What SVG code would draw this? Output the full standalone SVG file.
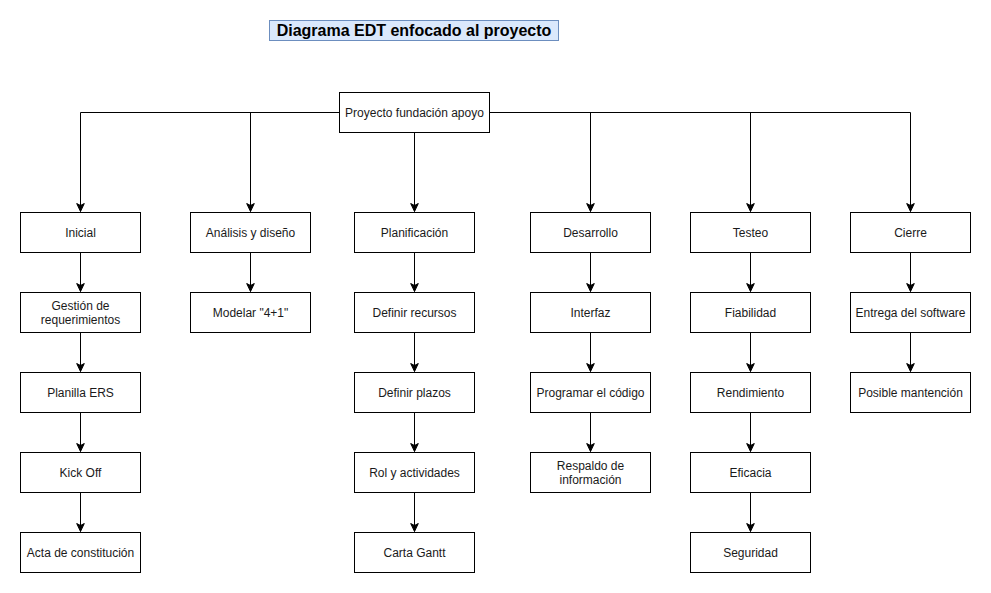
<svg xmlns="http://www.w3.org/2000/svg" width="991" height="593" viewBox="0 0 991 593">
<defs>
<style>
.b{fill:#fff;stroke:#000;stroke-width:1}
.t{font-family:"Liberation Sans",Arial,sans-serif;font-size:12px;fill:#1a1a1a;text-anchor:middle}
.c{fill:none;stroke:#000;stroke-width:1}
</style>
<marker id="a" markerUnits="userSpaceOnUse" markerWidth="10" markerHeight="10" refX="9" refY="5" orient="auto">
<path d="M1,1.2 L9,5 L1,8.8 L3,5 Z" fill="#000" stroke="#000" stroke-width="1"/>
</marker>
</defs>
<rect width="991" height="593" fill="#fff"/>
<g id="title">
<rect x="269.5" y="20.5" width="289" height="20" fill="#dae8fc" stroke="#6c8ebf"/>
<text x="414" y="36" style="font-family:'Liberation Sans',Arial,sans-serif;font-size:16px;font-weight:bold;text-anchor:middle;fill:#000">Diagrama EDT enfocado al proyecto</text>
</g>
<g id="connectors" class="c">
<path class="c" d="M339.5,112.5 H80.5 V211.5" marker-end="url(#a)"/>
<path class="c" d="M339.5,112.5 H250.5 V211.5" marker-end="url(#a)"/>
<path class="c" d="M414.5,132.5 V211.5" marker-end="url(#a)"/>
<path class="c" d="M489.5,112.5 H590.5 V211.5" marker-end="url(#a)"/>
<path class="c" d="M489.5,112.5 H750.5 V211.5" marker-end="url(#a)"/>
<path class="c" d="M489.5,112.5 H910.5 V211.5" marker-end="url(#a)"/>
<path class="c" d="M80.5,252.5 V291.5" marker-end="url(#a)"/>
<path class="c" d="M80.5,332.5 V371.5" marker-end="url(#a)"/>
<path class="c" d="M80.5,412.5 V451.5" marker-end="url(#a)"/>
<path class="c" d="M80.5,492.5 V531.5" marker-end="url(#a)"/>
<path class="c" d="M250.5,252.5 V291.5" marker-end="url(#a)"/>
<path class="c" d="M414.5,252.5 V291.5" marker-end="url(#a)"/>
<path class="c" d="M414.5,332.5 V371.5" marker-end="url(#a)"/>
<path class="c" d="M414.5,412.5 V451.5" marker-end="url(#a)"/>
<path class="c" d="M414.5,492.5 V531.5" marker-end="url(#a)"/>
<path class="c" d="M590.5,252.5 V291.5" marker-end="url(#a)"/>
<path class="c" d="M590.5,332.5 V371.5" marker-end="url(#a)"/>
<path class="c" d="M590.5,412.5 V451.5" marker-end="url(#a)"/>
<path class="c" d="M750.5,252.5 V291.5" marker-end="url(#a)"/>
<path class="c" d="M750.5,332.5 V371.5" marker-end="url(#a)"/>
<path class="c" d="M750.5,412.5 V451.5" marker-end="url(#a)"/>
<path class="c" d="M750.5,492.5 V531.5" marker-end="url(#a)"/>
<path class="c" d="M910.5,252.5 V291.5" marker-end="url(#a)"/>
<path class="c" d="M910.5,332.5 V371.5" marker-end="url(#a)"/>
</g>
<g id="root"><rect class="b" x="339.5" y="92.5" width="150" height="40"/><text class="t" x="414.5" y="117">Proyecto fundación apoyo</text></g>

<g id="inicial"><rect class="b" x="20.5" y="212.5" width="120" height="40"/><text class="t" x="80.5" y="237">Inicial</text></g>
<g id="gestion"><rect class="b" x="20.5" y="292.5" width="120" height="40"/><text class="t" x="80.5" y="310">Gestión de</text><text class="t" x="80.5" y="324">requerimientos</text></g>
<g id="planilla"><rect class="b" x="20.5" y="372.5" width="120" height="40"/><text class="t" x="80.5" y="397">Planilla ERS</text></g>
<g id="kickoff"><rect class="b" x="20.5" y="452.5" width="120" height="40"/><text class="t" x="80.5" y="477">Kick Off</text></g>
<g id="acta"><rect class="b" x="20.5" y="532.5" width="120" height="40"/><text class="t" x="80.5" y="557">Acta de constitución</text></g>

<g id="analisis"><rect class="b" x="190.5" y="212.5" width="120" height="40"/><text class="t" x="250.5" y="237">Análisis y diseño</text></g>
<g id="modelar"><rect class="b" x="190.5" y="292.5" width="120" height="40"/><text class="t" x="250.5" y="317">Modelar "4+1"</text></g>

<g id="planificacion"><rect class="b" x="354.5" y="212.5" width="120" height="40"/><text class="t" x="414.5" y="237">Planificación</text></g>
<g id="recursos"><rect class="b" x="354.5" y="292.5" width="120" height="40"/><text class="t" x="414.5" y="317">Definir recursos</text></g>
<g id="plazos"><rect class="b" x="354.5" y="372.5" width="120" height="40"/><text class="t" x="414.5" y="397">Definir plazos</text></g>
<g id="rol"><rect class="b" x="354.5" y="452.5" width="120" height="40"/><text class="t" x="414.5" y="477">Rol y actividades</text></g>
<g id="gantt"><rect class="b" x="354.5" y="532.5" width="120" height="40"/><text class="t" x="414.5" y="557">Carta Gantt</text></g>

<g id="desarrollo"><rect class="b" x="530.5" y="212.5" width="120" height="40"/><text class="t" x="590.5" y="237">Desarrollo</text></g>
<g id="interfaz"><rect class="b" x="530.5" y="292.5" width="120" height="40"/><text class="t" x="590.5" y="317">Interfaz</text></g>
<g id="programar"><rect class="b" x="530.5" y="372.5" width="120" height="40"/><text class="t" x="590.5" y="397">Programar el código</text></g>
<g id="respaldo"><rect class="b" x="530.5" y="452.5" width="120" height="40"/><text class="t" x="590.5" y="470">Respaldo de</text><text class="t" x="590.5" y="484">información</text></g>

<g id="testeo"><rect class="b" x="690.5" y="212.5" width="120" height="40"/><text class="t" x="750.5" y="237">Testeo</text></g>
<g id="fiabilidad"><rect class="b" x="690.5" y="292.5" width="120" height="40"/><text class="t" x="750.5" y="317">Fiabilidad</text></g>
<g id="rendimiento"><rect class="b" x="690.5" y="372.5" width="120" height="40"/><text class="t" x="750.5" y="397">Rendimiento</text></g>
<g id="eficacia"><rect class="b" x="690.5" y="452.5" width="120" height="40"/><text class="t" x="750.5" y="477">Eficacia</text></g>
<g id="seguridad"><rect class="b" x="690.5" y="532.5" width="120" height="40"/><text class="t" x="750.5" y="557">Seguridad</text></g>

<g id="cierre"><rect class="b" x="850.5" y="212.5" width="120" height="40"/><text class="t" x="910.5" y="237">Cierre</text></g>
<g id="entrega"><rect class="b" x="850.5" y="292.5" width="120" height="40"/><text class="t" x="910.5" y="317">Entrega del software</text></g>
<g id="mantencion"><rect class="b" x="850.5" y="372.5" width="120" height="40"/><text class="t" x="910.5" y="397">Posible mantención</text></g>
</svg>
